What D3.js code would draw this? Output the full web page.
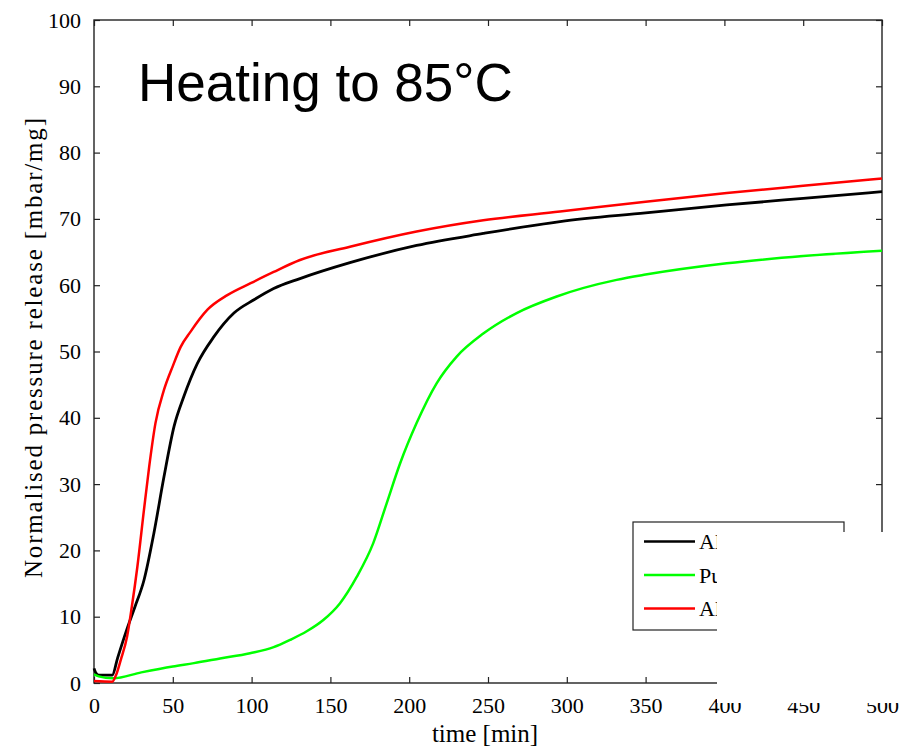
<!DOCTYPE html>
<html>
<head>
<meta charset="utf-8">
<script src="https://cdn.jsdelivr.net/npm/d3@7"></script>
<style>
  body { margin: 0; background: #fff; }
  svg { display: block; }
</style>
</head>
<body>
<svg width="902" height="750"></svg>
<script>
// data (time in min, pressure in mbar/mg)
const blackTime = [0, 1, 3, 11.6, 15, 21, 26, 31.7, 38, 44.4, 50.8, 57, 65.6, 76, 88.8, 101.5, 114, 130.7, 162.4, 204.7, 247, 295.7, 350, 401.5, 450, 500]
const blackValues = [2.2, 1.6, 1.2, 1.2, 3.8, 8.2, 11.5, 15.5, 22.6, 31.1, 38.7, 43.2, 48.2, 52.2, 55.8, 57.8, 59.5, 61.0, 63.4, 66.0, 67.8, 69.6, 70.9, 72.1, 73.1, 74.1]

const greenTime = [0, 3, 12, 30, 50, 63.4, 80, 99, 114, 124.4, 135, 145.5, 156, 166.7, 177.2, 185.7, 194.2, 204.7, 217.4, 230, 247, 268.2, 293.6, 331.6, 350, 401.5, 450, 500]
const greenValues = [1.3, 1.0, 0.7, 1.6, 2.5, 3.0, 3.7, 4.5, 5.4, 6.5, 7.8, 9.5, 12, 16, 21.1, 27.1, 33.1, 39.2, 45.2, 49.2, 52.7, 55.8, 58.3, 60.8, 61.6, 63.3, 64.4, 65.2]

const redTime = [0, 11.6, 14, 17, 21, 24, 27.5, 31.7, 35, 39, 44.4, 50, 55, 61.3, 72, 84.6, 99.4, 114, 130.7, 162.4, 204.7, 247, 295.7, 350, 401.5, 450, 500]
const redValues = [0.3, 0.2, 1.2, 3.5, 7, 11.5, 17.5, 26.1, 32.6, 39.2, 44.2, 47.8, 50.7, 53, 56.3, 58.5, 60.3, 62, 63.8, 65.8, 68.1, 69.8, 71.1, 72.6, 73.9, 75.0, 76.1]

const seriesNames = ['Al-Ti catalysed', 'Pure', 'Al-Ti milled']
const seriesColors = ['#000000', '#00ff00', '#ff0000']

const xTicks = [0, 50, 100, 150, 200, 250, 300, 350, 400, 450, 500]
const yTicks = [0, 10, 20, 30, 40, 50, 60, 70, 80, 90, 100]

const svg = d3.select('svg')

const plotLeft = 94, plotRight = 882, plotTop = 20, plotBottom = 683
const xScale = d3.scaleLinear().domain([0, 500]).range([plotLeft, plotRight])
const yScale = d3.scaleLinear().domain([0, 100]).range([plotBottom, plotTop])

const serif = '"Liberation Serif", "Times New Roman", serif'
const axisColor = '#222'

// ticks pointing inward, mirrored on top/right
function styleAxis(g) {
  g.select('.domain').remove()
  g.selectAll('.tick line').attr('stroke', axisColor).attr('stroke-width', 1.2)
  g.selectAll('.tick text')
    .attr('fill', '#000')
    .style('font-family', serif)
    .style('font-size', '22px')
}

svg.append('g')
  .attr('transform', 'translate(0,' + plotBottom + ')')
  .call(d3.axisBottom(xScale).tickValues(xTicks).tickSize(-6).tickPadding(14))
  .call(styleAxis)

svg.append('g')
  .attr('transform', 'translate(0,' + plotTop + ')')
  .call(d3.axisTop(xScale).tickValues(xTicks).tickSize(-6).tickFormat(''))
  .call(styleAxis)

svg.append('g')
  .attr('transform', 'translate(' + plotLeft + ',0)')
  .call(d3.axisLeft(yScale).tickValues(yTicks).tickSize(-6).tickPadding(13))
  .call(styleAxis)

svg.append('g')
  .attr('transform', 'translate(' + plotRight + ',0)')
  .call(d3.axisRight(yScale).tickValues(yTicks).tickSize(-6).tickFormat(''))
  .call(styleAxis)

// frame
svg.append('rect')
  .attr('x', plotLeft)
  .attr('y', plotTop)
  .attr('width', plotRight - plotLeft)
  .attr('height', plotBottom - plotTop)
  .attr('fill', 'none')
  .attr('stroke', axisColor)
  .attr('stroke-width', 1.4)

// curves
const line = d3.line()
  .x(d => xScale(d[0]))
  .y(d => yScale(d[1]))
  .curve(d3.curveMonotoneX)

const series = [
  d3.zip(blackTime, blackValues),
  d3.zip(greenTime, greenValues),
  d3.zip(redTime, redValues)
]

svg.append('g').selectAll('path')
  .data(series)
  .enter()
  .append('path')
  .attr('d', line)
  .attr('fill', 'none')
  .attr('stroke', (d, i) => seriesColors[i])
  .attr('stroke-width', (d, i) => i == 0 ? 2.8 : 2.5)
  .attr('stroke-linejoin', 'round')

// legend
const legend = svg.append('g')
legend.append('rect')
  .attr('x', 633)
  .attr('y', 522)
  .attr('width', 211)
  .attr('height', 108)
  .attr('fill', '#fff')
  .attr('stroke', axisColor)
  .attr('stroke-width', 1.2)

seriesNames.forEach((name, i) => {
  let ly = 541.5 + i * 33.5
  legend.append('line')
    .attr('x1', 644).attr('x2', 695)
    .attr('y1', ly).attr('y2', ly)
    .attr('stroke', seriesColors[i])
    .attr('stroke-width', 2.4)
  legend.append('text')
    .attr('x', 699)
    .attr('y', ly + 7.5)
    .text(name)
    .style('font-family', serif)
    .style('font-size', '22px')
})

// white patch that hides the bottom right corner
svg.append('rect')
  .attr('x', 717)
  .attr('y', 532)
  .attr('width', 185)
  .attr('height', 171)
  .attr('fill', '#fff')

// axis titles
svg.append('text')
  .attr('x', (plotLeft + plotRight) / 2 - 3)
  .attr('y', 742)
  .attr('text-anchor', 'middle')
  .text('time [min]')
  .style('font-family', serif)
  .style('font-size', '25px')

svg.append('text')
  .attr('transform', 'translate(42,348) rotate(-90)')
  .attr('text-anchor', 'middle')
  .attr('textLength', 460)
  .attr('lengthAdjust', 'spacing')
  .text('Normalised pressure release [mbar/mg]')
  .style('font-family', serif)
  .style('font-size', '25px')

// big title
svg.append('text')
  .attr('x', 138)
  .attr('y', 101)
  .text('Heating to 85°C')
  .style('font-family', '"Liberation Sans", Arial, sans-serif')
  .style('font-size', '53px')
</script>
</body>
</html>
